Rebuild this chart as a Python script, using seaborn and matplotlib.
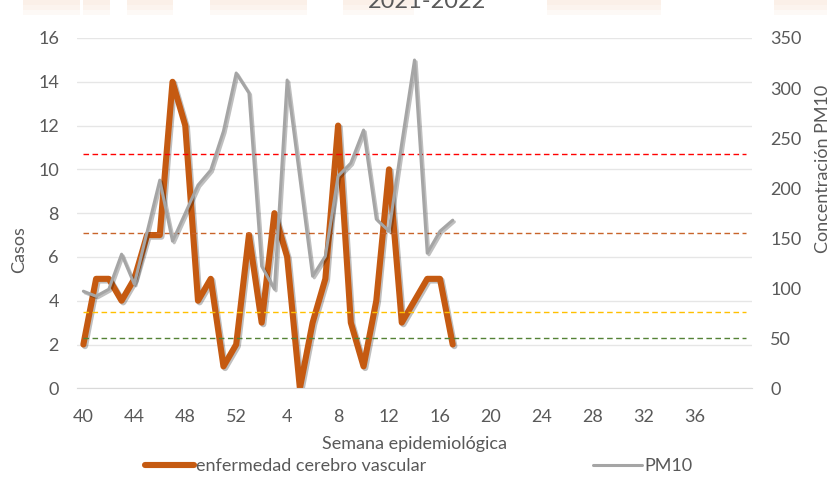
import pandas as pd
import seaborn as sns
import matplotlib.pyplot as plt
import matplotlib.patheffects as pe
from matplotlib.lines import Line2D
from matplotlib.patches import Rectangle
import numpy as np

# semanas epidemiologicas 2021-2022
semanas = list(range(40, 53)) + list(range(1, 41))
casos = [2, 5, 5, 4, 5, 7, 7, 14, 12, 4, 5, 1, 2, 7, 3, 8, 6, 0, 3, 5,
         12, 3, 1, 4, 10, 3, 4, 5, 5, 2]
pm10 = [97, 92, 99, 134, 104, 156, 208, 147, 175, 203, 218, 257, 315, 295,
        122, 99, 308, 210, 112, 132, 212, 225, 258, 169, 157, 245, 328, 135,
        157, 168]
# umbrales de calidad del aire (eje secundario)
umbrales = [234, 155, 76, 50]
colores_umbral = ['#FF0000', '#C8642A', '#FFC000', '#548235']

gris_texto = '#595959'
fs = 13

sns.set_style('white')
plt.rcParams['font.family'] = ['Lato', 'DejaVu Sans']

df = pd.DataFrame({'x': np.arange(len(casos)), 'casos': casos, 'pm10': pm10})

fig = plt.figure(figsize=(8.28, 4.82), dpi=100)

# fondo difuso de la imagen original en la franja superior
for x0, x1 in [(23, 80), (83, 110), (127, 173), (210, 307), (343, 414),
               (547, 661), (774, 828)]:
    for k, h in enumerate([15, 10, 5]):
        fig.patches.append(Rectangle((x0 / 828, 1 - h / 482), (x1 - x0) / 828, h / 482,
                                     transform=fig.transFigure, color='#F8E2CF',
                                     alpha=0.18, lw=0, zorder=0))

ax = fig.add_axes([77 / 828, 1 - 388.3 / 482, 675 / 828, 350.3 / 482])
ax2 = ax.twinx()

sombra = [pe.SimpleLineShadow(offset=(1.2, -1.2), alpha=0.25, shadow_color='black'),
          pe.Normal()]

sns.lineplot(data=df, x='x', y='casos', ax=ax, color='#C55A11', lw=4.4,
             solid_capstyle='round', solid_joinstyle='round', path_effects=sombra)

xx = np.arange(len(semanas))
for val, col in zip(umbrales, colores_umbral):
    sns.lineplot(x=xx, y=[val] * len(xx), ax=ax2, color=col, lw=1.0,
                 linestyle=(0, (4, 2.5)))
sns.lineplot(data=df, x='x', y='pm10', ax=ax2, color='#A5A5A5', lw=2.2,
             solid_joinstyle='round', path_effects=sombra)

ax.set_xlim(-0.5, len(semanas) - 0.5)
ax.set_ylim(0, 16)
ax.set_yticks(range(0, 17, 2))
ax2.set_ylim(0, 350)
ax2.set_yticks(range(0, 351, 50))
ax.set_xticks(xx[::4][:13])
ax.set_xticklabels([str(s) for s in semanas[::4][:13]])

ax.yaxis.grid(True, color='#E6E6E6', lw=1.0)
ax.xaxis.grid(False)
for a in (ax, ax2):
    for s in a.spines.values():
        s.set_visible(False)
    a.tick_params(length=0, labelsize=fs, colors=gris_texto)
ax.spines['bottom'].set_visible(True)
ax.spines['bottom'].set_color('#D9D9D9')
ax.tick_params(axis='y', pad=13)
ax.tick_params(axis='x', pad=15)
ax2.tick_params(axis='y', pad=13)

ax.set_xlabel('Semana epidemiológica', fontsize=fs, color=gris_texto, labelpad=8)
ax.set_ylabel('')
ax2.set_ylabel('')
fig.text(19 / 828, 1 - 250 / 482, 'Casos', rotation=90, ha='center', va='center',
         fontsize=fs, color=gris_texto)
fig.text(823 / 828, 1 - 169 / 482, 'Concentración PM10', rotation=90, ha='center',
         va='center', fontsize=fs, color=gris_texto)

fig.text(427 / 828, 1 - 8 / 482, '2021-2022', ha='center', va='baseline',
         fontsize=17, color=gris_texto)

handles = [Line2D([], [], color='#C55A11', lw=4.4, solid_capstyle='round'),
           Line2D([], [], color='#A5A5A5', lw=2.2)]
fig.legend(handles, ['enfermedad cerebro vascular', 'PM10'], ncol=2,
           loc='center left', bbox_to_anchor=(145 / 828, 1 - 466 / 482),
           frameon=False, fontsize=fs, labelcolor=gris_texto, handlelength=2.7,
           handletextpad=0.15, columnspacing=9.2, borderpad=0, borderaxespad=0)

fig.savefig('out.png', dpi=100)
